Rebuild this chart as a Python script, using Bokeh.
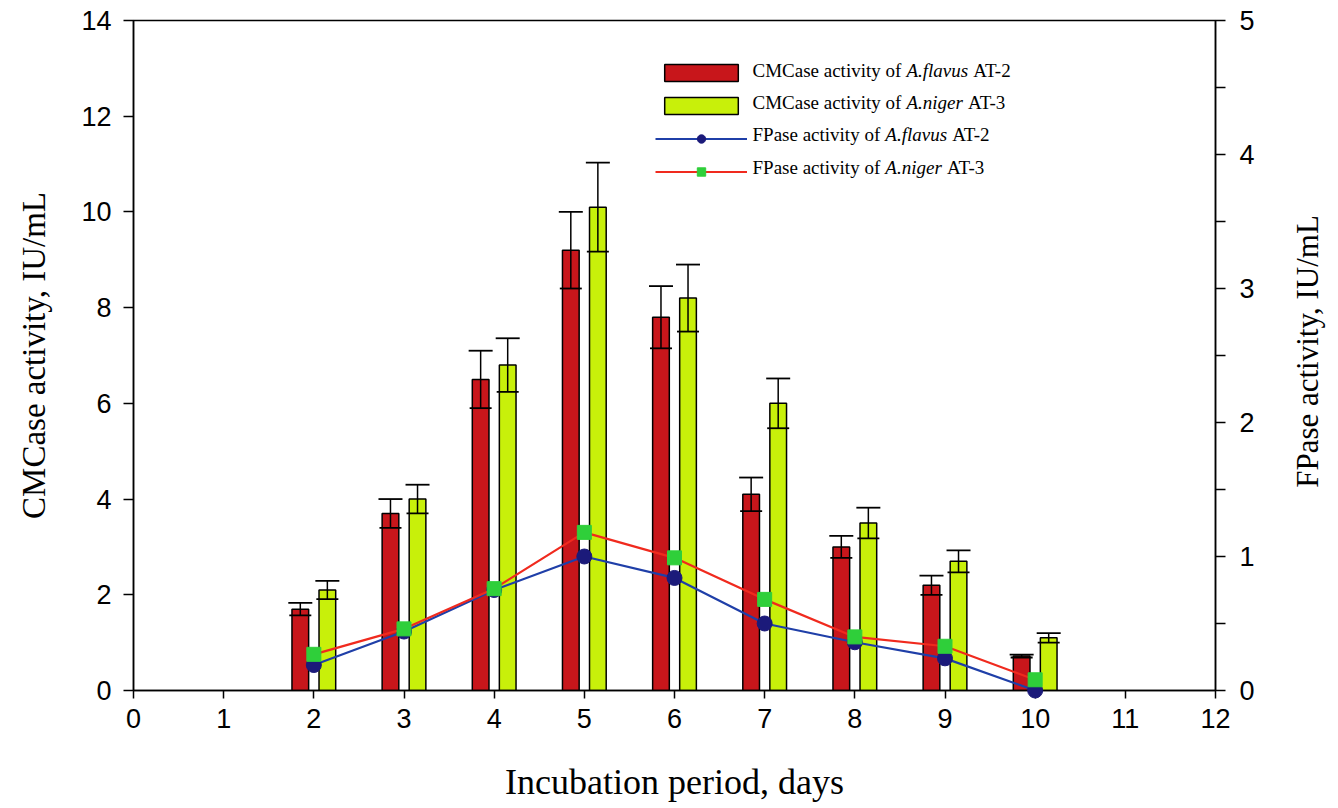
import math
from bokeh.plotting import figure
from bokeh.models import (ColumnDataSource, LinearAxis, Range1d, Whisker, TeeHead,
                          FixedTicker, Legend, LegendItem, Label)
from bokeh.transform import dodge
from bokeh.embed import file_html
from bokeh.resources import INLINE

# ---- data ----
days = [2, 3, 4, 5, 6, 7, 8, 9, 10]
cmc_flavus = [1.7, 3.7, 6.5, 9.2, 7.8, 4.1, 3.0, 2.2, 0.72]
cmc_flavus_err = [0.13, 0.3, 0.6, 0.8, 0.65, 0.35, 0.23, 0.2, 0.03]
cmc_niger = [2.1, 4.0, 6.8, 10.1, 8.2, 6.0, 3.5, 2.7, 1.1]
cmc_niger_err = [0.19, 0.3, 0.56, 0.93, 0.7, 0.52, 0.32, 0.23, 0.1]
fp_flavus = [0.19, 0.44, 0.75, 1.0, 0.84, 0.5, 0.36, 0.24, 0.0]
fp_niger = [0.27, 0.46, 0.76, 1.18, 0.99, 0.68, 0.40, 0.33, 0.08]
x_ticks = list(range(0, 13))
left_ticks = list(range(0, 15, 2))
right_ticks = [0, 1, 2, 3, 4, 5]
right_minor = [0.5, 1.5, 2.5, 3.5, 4.5]

# legend texts: (regular prefix, italic species, regular suffix)
legend_texts = [
    ("CMCase activity of", "A.flavus", "AT-2"),
    ("CMCase activity of", "A.niger", "AT-3"),
    ("FPase activity of", "A.flavus", "AT-2"),
    ("FPase activity of", "A.niger", "AT-3"),
]

RED = "#c8161b"
LIME = "#c8f00a"
BLUE_LINE = "#1f3fa8"
BLUE_MARK = "#1b1a7a"
RED_LINE = "#f02a1e"
GREEN_MARK = "#2fcf3a"

src = ColumnDataSource(dict(
    day=days,
    cf=cmc_flavus, cf_up=[v + e for v, e in zip(cmc_flavus, cmc_flavus_err)],
    cf_lo=[v - e for v, e in zip(cmc_flavus, cmc_flavus_err)],
    cn=cmc_niger, cn_up=[v + e for v, e in zip(cmc_niger, cmc_niger_err)],
    cn_lo=[v - e for v, e in zip(cmc_niger, cmc_niger_err)],
    ff=fp_flavus, fn=fp_niger,
))

p = figure(width=1338, height=808, output_backend="svg", toolbar_location=None,
           x_range=Range1d(0, 12), y_range=Range1d(0, 14),
           min_border_left=133, min_border_right=123, min_border_top=20,
           min_border_bottom=118, background_fill_color="white",
           border_fill_color="white")
p.extra_y_ranges = {"fp": Range1d(0, 5)}
p.xgrid.visible = False
p.ygrid.visible = False
p.outline_line_color = "black"
p.outline_line_width = 1.5

TICK_FONT = "Liberation Sans"
LABEL_FONT = "Liberation Serif"

def style_axis(ax):
    ax.axis_line_color = "black"
    ax.axis_line_width = 1.5
    ax.major_tick_line_color = "black"
    ax.major_tick_line_width = 1.5
    ax.major_tick_in = 0
    ax.major_tick_out = 10
    ax.major_label_text_font = TICK_FONT
    ax.major_label_text_font_size = "27px"
    ax.major_label_text_font_style = "normal"
    ax.major_label_text_color = "black"
    ax.axis_label_text_font = LABEL_FONT
    ax.axis_label_text_font_style = "normal"
    ax.axis_label_text_color = "black"
    ax.axis_label_text_font_size = "34px"

xa = p.xaxis[0]
style_axis(xa)
xa.ticker = FixedTicker(ticks=x_ticks)
xa.minor_tick_line_color = None
xa.major_tick_out = 8
xa.major_label_standoff = 10
xa.axis_label = "Incubation period, days"
xa.axis_label_text_font_size = "36px"
xa.axis_label_standoff = 31

ya = p.yaxis[0]
style_axis(ya)
ya.ticker = FixedTicker(ticks=left_ticks)
ya.minor_tick_line_color = None
ya.major_label_standoff = 12
ya.axis_label = "CMCase activity, IU/mL"
ya.axis_label_text_font_size = "33px"
ya.axis_label_standoff = 26

ra = LinearAxis(y_range_name="fp")
style_axis(ra)
ra.ticker = FixedTicker(ticks=right_ticks, minor_ticks=right_minor)
ra.minor_tick_line_color = "black"
ra.minor_tick_line_width = 1.5
ra.minor_tick_in = 0
ra.minor_tick_out = 10
ra.major_label_standoff = 14
p.add_layout(ra, "right")

# right axis title, reading bottom-to-top like the reference (side panel label)
p.add_layout(Label(x=50, y=339, x_units="screen", y_units="screen",
                   text="FPase activity, IU/mL", angle=math.pi / 2,
                   text_align="center", text_baseline="middle",
                   text_font=LABEL_FONT, text_font_size="31px", text_color="black"),
             "right")

OFF = 0.15
W = 0.185
r1 = p.vbar(x=dodge("day", -OFF, range=p.x_range), top="cf", width=W, source=src,
            fill_color=RED, line_color="black", line_width=1.5)
r2 = p.vbar(x=dodge("day", OFF, range=p.x_range), top="cn", width=W, source=src,
            fill_color=LIME, line_color="black", line_width=1.5)

for base_off, up, lo in [(-OFF, "cf_up", "cf_lo"), (OFF, "cn_up", "cn_lo")]:
    w = Whisker(base=dodge("day", base_off, range=p.x_range), upper=up, lower=lo,
                source=src, line_color="black", line_width=1.5, level="annotation",
                upper_head=TeeHead(size=24, line_color="black", line_width=1.8),
                lower_head=TeeHead(size=22, line_color="black", line_width=1.8))
    p.add_layout(w)

l1 = p.line("day", "ff", source=src, y_range_name="fp", line_color=BLUE_LINE, line_width=2.2)
m1 = p.scatter("day", "ff", source=src, y_range_name="fp", marker="circle", size=15,
               fill_color=BLUE_MARK, line_color=BLUE_MARK)
l2 = p.line("day", "fn", source=src, y_range_name="fp", line_color=RED_LINE, line_width=2.2)
m2 = p.scatter("day", "fn", source=src, y_range_name="fp", marker="square", size=14,
               fill_color=GREEN_MARK, line_color=GREEN_MARK)
for r in (l1, m1, l2, m2):
    r.level = "overlay"

# legend swatches (Bokeh legend) with texts drawn as labels to allow italics
legend = Legend(items=[
    LegendItem(label=" ", renderers=[r1]),
    LegendItem(label=" ", renderers=[r2]),
    LegendItem(label=" ", renderers=[l1, m1]),
    LegendItem(label=" ", renderers=[l2, m2]),
], location=(522, 508))
legend.border_line_color = None
legend.background_fill_alpha = 0
legend.label_text_font = LABEL_FONT
legend.label_text_font_size = "19px"
legend.label_height = 20
legend.glyph_width = 92
legend.glyph_height = 21
legend.label_standoff = 0
legend.spacing = 12
legend.padding = 0
legend.margin = 0
p.add_layout(legend)

FS = 19
# Times advance widths (per 1000 em) for layout of the legend text pieces
REG = {"C": 667, "M": 889, "a": 444, "s": 389, "e": 444, " ": 250, "c": 444, "t": 278,
       "i": 278, "v": 500, "y": 500, "o": 500, "f": 333, "F": 556, "P": 556}
def reg_width(s):
    return sum(REG.get(ch, 500) for ch in s) * FS / 1000.0
ITA = {"A": 611, ".": 250, "f": 278, "l": 278, "a": 500, "v": 444, "u": 500, "s": 389,
       "n": 500, "i": 278, "g": 500, "e": 444, "r": 389}
def ita_width(s):
    return sum(ITA.get(ch, 500) for ch in s) * FS / 1000.0
SPACE = 270 * FS / 1000.0

TX0 = 619          # legend text start, frame screen units
row_y = [620, 588, 556, 523]
for (pre, sp, suf), ry in zip(legend_texts, row_y):
    common = dict(y=ry, x_units="screen", y_units="screen", text_baseline="middle",
                  text_align="left", text_font=LABEL_FONT, text_font_size=f"{FS}px",
                  text_color="black")
    x = TX0
    p.add_layout(Label(x=x, text=pre, **common))
    x += reg_width(pre) + SPACE
    p.add_layout(Label(x=x, text=sp, text_font_style="italic", **common))
    x += ita_width(sp) + SPACE
    p.add_layout(Label(x=x, text=suf, **common))

open("out.html", "w").write(file_html(p, INLINE))
